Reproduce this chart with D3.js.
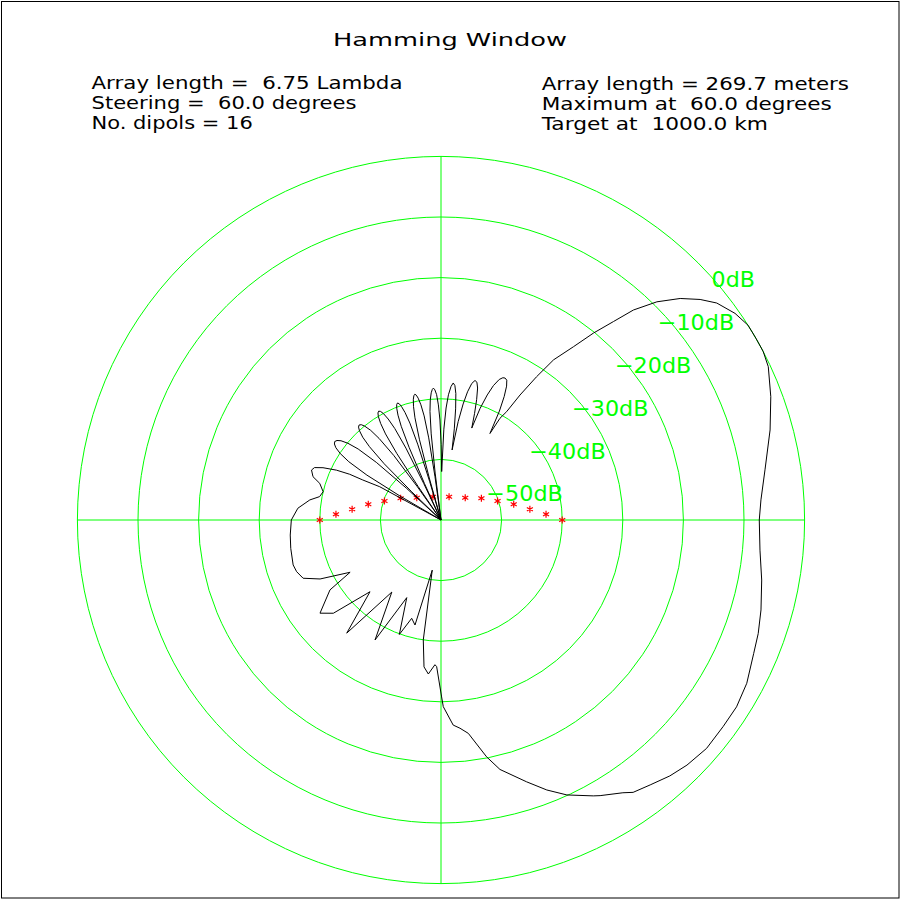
<!DOCTYPE html>
<html><head><meta charset="utf-8">
<script src="https://cdn.jsdelivr.net/npm/d3@7"></script>
<style>
body{margin:0;background:#fff}
svg{display:block}
text{white-space:pre;font-family:"DejaVu Sans","Liberation Sans",sans-serif}
</style>
</head><body>
<svg id="c" width="901" height="901"></svg>
<script>
// ---------------- data ----------------
const title = "Hamming Window";
const infoLeft = ["Array length =  6.75 Lambda", "Steering =  60.0 degrees", "No. dipols = 16"];
const infoRight = ["Array length = 269.7 meters", "Maximum at  60.0 degrees", "Target at  1000.0 km"];
const ringDb = [-50, -40, -30, -20, -10, 0];
const ringLabels = ["\u221250dB", "\u221240dB", "\u221230dB", "\u221220dB", "\u221210dB", "0dB"];

// radiation pattern: angle in degrees (from north, clockwise), level in dB
const patternAngle = [
  0.8, 1.8, 2.6, 3.4, 4.3, 5.1, 5.9, 6.7, 7.5, 8.3, 9.0,
  9.9, 10.8, 11.7, 12.7, 13.7, 14.6, 15.5, 16.5, 17.5, 18.5,
  19.3, 20.3, 21.3, 22.5, 23.5, 24.3, 25.2, 26.1, 27.1, 28.2, 29.5,
  30.1, 31.2, 32.3, 33.7, 35.1, 37.4, 39.2, 41.0, 42.5, 44.7, 47.2, 49.6, 51.8, 54.9,
  57.6, 60.1, 62.4, 64.9, 69.5, 74.7, 81.2, 86.4, 90.0, 95.4, 100.6, 105.7, 109.7, 113.1,
  118.1, 122.3, 126.2, 130.7, 134.9, 138.2, 141.7, 144.8, 146.3, 150.0, 151.1, 155.4, 158.6,
  161.9, 166.7, 169.1, 171.6, 172.7, 174.8, 176.6, 179.3, 179.8, 181.7, 182.4, 184.7, 186.6,
  188.4, 189.9, 193.9, 196.6, 200.0, 203.8, 208.8, 214.3, 219.8, 224.7, 229.1, 232.4, 237.8,
  240.1, 244.0, 247.1, 250.3, 253.1, 259.3, 264.3, 270.0, 274.7, 278.7, 280.9, 283.5, 286.8,
  288.7, 291.1, 292.5, 293.9, 295.5, 296.6, 297.1, 298.5, 299.6,
  300.3, 301.2, 302.3, 303.4, 304.5, 305.5, 306.45, 307.4, 308.4, 309.5, 310.6, 311.7, 312.6, 313.3,
  313.9, 314.7, 315.7, 316.6, 317.6, 318.4, 319.25, 320.1, 320.9, 321.9, 322.8, 323.8, 324.6, 325.2,
  325.7, 326.4, 327.2, 328.0, 328.8, 329.5, 330.2, 330.9, 331.6, 332.4, 333.2, 334.0, 334.7, 335.2,
  335.6, 336.3, 337.0, 337.7, 338.4, 339.0, 339.6, 340.2, 340.8, 341.5, 342.2, 342.9, 343.6, 344.0,
  344.4, 345.0, 345.7, 346.4, 347.1, 347.7, 348.25, 348.8, 349.4, 350.1, 350.8, 351.5, 352.1, 352.5,
  352.9, 353.5, 354.2, 354.9, 355.6, 356.2, 356.7, 357.3, 358.0, 358.7, 359.4, 0.1
];
const patternDb = [
  -52.0, -45.0, -41.5, -39.3, -37.9, -37.3, -37.7, -39.0, -41.5, -44.8, -48.3,
  -43.5, -40.5, -38.4, -36.9, -36.3, -36.5, -37.4, -39.3, -41.6, -44.0,
  -40.5, -38.0, -36.2, -34.9, -34.4, -34.3, -34.5, -35.4, -37.1, -39.6, -43.6,
  -40.6, -39.1, -35.6, -31.6, -27.7, -24.0, -20.2, -16.6, -13.0, -9.35, -6.2, -3.85, -2.1, -0.7,
  0.0, 0.0, 0.0, -0.36, -1.9, -3.7, -5.9, -7.1, -7.48, -7.13, -6.16, -5.15, -4.4, -3.9,
  -2.8, -2.3, -2.3, -2.2, -2.7, -3.35, -4.3, -5.0, -5.9, -7.48, -8.0, -10.1, -12.15,
  -14.55, -17.7, -20.2, -23.3, -24.5, -25.5, -26.1, -29.2, -30.8, -35.8, -36.1, -34.5, -35.6,
  -40.0, -51.6, -42.15, -43.07, -39.9, -46.0, -37.4, -45.6, -35.7, -43.35, -36.5, -34.8, -38.35,
  -42.7, -37.8, -35.3, -34.7, -34.5, -34.77, -35.0, -35.3, -36.3, -38.1, -39.6, -40.0, -39.1,
  -37.7, -37.1, -37.4, -38.7, -40.9, -43.15, -45.5, -48.5, -60,
  -52.2, -45.7, -42.0, -40.1, -38.95, -38.4, -38.2, -38.4, -38.95, -40.1, -42.0, -45.7, -52.2, -60,
  -53.3, -46.8, -43.1, -41.2, -40.05, -39.5, -39.3, -39.5, -40.05, -41.2, -43.1, -46.8, -53.3, -60,
  -53.3, -46.8, -43.1, -41.2, -40.05, -39.5, -39.3, -39.5, -40.05, -41.2, -43.1, -46.8, -53.3, -60,
  -53.4, -46.9, -43.2, -41.3, -40.15, -39.6, -39.4, -39.6, -40.15, -41.3, -43.2, -46.9, -53.4, -60,
  -52.8, -46.3, -42.6, -40.7, -39.55, -39.0, -38.8, -39.0, -39.55, -40.7, -42.6, -46.3, -52.8, -60,
  -52.2, -45.7, -42.0, -40.1, -38.95, -38.4, -38.2, -38.5, -39.3, -41.0, -43.5, -47.5
];

// dipoles: position along the array (lambda) and marker offset (arc)
const dipolePos = [-3.375, -2.925, -2.475, -2.025, -1.575, -1.125, -0.675, -0.225,
                   0.225, 0.675, 1.125, 1.575, 2.025, 2.475, 2.925, 3.375];
const dipoleArc = [0, 5.7, 10.7, 15.7, 19.0, 21.7, 22.3, 23.3,
                   23.3, 22.3, 21.7, 19.0, 15.7, 10.7, 5.7, 0];

// ---------------- layout ----------------
const cx = 441, cy = 520, R = 363.6;
const GREEN = "#00ff00";
const svg = d3.select("#c");

svg.append("rect").attr("x", 1.5).attr("y", 1.5).attr("width", 897.5).attr("height", 896.5)
  .attr("fill", "none").attr("stroke", "#000").attr("stroke-width", 1);

const rScale = d3.scaleLinear().domain([-60, 0]).range([0, R]).clamp(true);
const g = svg.append("g").attr("transform", `translate(${cx},${cy})`);

// rings
g.selectAll("circle.ring").data(ringDb).join("circle").attr("class", "ring")
  .attr("r", d => rScale(d)).attr("fill", "none").attr("stroke", GREEN).attr("stroke-width", 1);
// axes
g.append("line").attr("x1", -R).attr("x2", R).attr("y1", 0).attr("y2", 0)
  .attr("stroke", GREEN).attr("stroke-width", 1);
g.append("line").attr("y1", -R).attr("y2", R).attr("x1", 0).attr("x2", 0)
  .attr("stroke", GREEN).attr("stroke-width", 1);

// ring labels along 45 deg
const c45 = Math.SQRT1_2;
g.selectAll("text.lab").data(ringDb).join("text").attr("class", "lab")
  .attr("x", d => rScale(d) * c45 + 2.5 + (d >= 0 ? 11 : 0))
  .attr("y", d => -rScale(d) * c45 + 24.2)
  .attr("font-size", 21).attr("fill", GREEN)
  .attr("textLength", d => d >= 0 ? 43.3 : 76.5).attr("lengthAdjust", "spacingAndGlyphs")
  .text((d, i) => ringLabels[i]);

// dipole markers
const xDip = d3.scaleLinear().domain([-3.375, 3.375]).range([-rScale(-40), rScale(-40)]);
const yDip = d3.scaleLinear().domain([0, 23.3]).range([0, -23.3]);
const sym = d3.symbol().type(d3.symbolAsterisk).size(34);
g.selectAll("path.dip").data(dipolePos).join("path").attr("class", "dip")
  .attr("transform", (d, i) => `translate(${xDip(d)},${yDip(dipoleArc[i])})`)
  .attr("d", sym).attr("fill", "none").attr("stroke", "#ff0000").attr("stroke-width", 1.2);

// pattern
const idx = d3.range(patternAngle.length);
const line = d3.lineRadial()
  .angle(i => patternAngle[i] * Math.PI / 180)
  .radius(i => rScale(patternDb[i]))
  .curve(d3.curveLinearClosed);
g.append("path").attr("d", line(idx)).attr("fill", "none")
  .attr("stroke", "#000").attr("stroke-width", 1).attr("stroke-linejoin", "round");

// texts
svg.append("text").attr("x", 333).attr("y", 46).attr("font-size", 18.5)
  .attr("textLength", 234).attr("lengthAdjust", "spacingAndGlyphs").text(title);
const leftW = [311, 265, 161.3];
const rightW = [307.3, 290, 226.3];
svg.selectAll("text.il").data(infoLeft).join("text").attr("class", "il")
  .attr("x", 91.5).attr("y", (d, i) => 88.5 + i * 20).attr("font-size", 18)
  .attr("textLength", (d, i) => leftW[i]).attr("lengthAdjust", "spacingAndGlyphs").text(d => d);
svg.selectAll("text.ir").data(infoRight).join("text").attr("class", "ir")
  .attr("x", 541.7).attr("y", (d, i) => 89.5 + i * 20).attr("font-size", 18)
  .attr("textLength", (d, i) => rightW[i]).attr("lengthAdjust", "spacingAndGlyphs").text(d => d);
</script>
</body></html>
